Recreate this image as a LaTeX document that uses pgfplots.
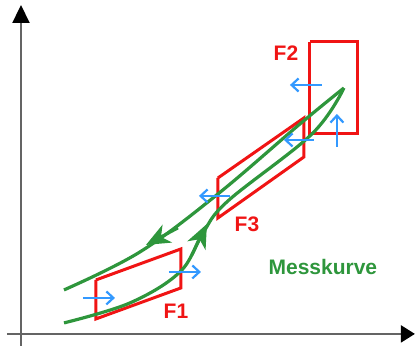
\documentclass[border=0pt]{standalone}
\usepackage{pgfplots}
\pgfplotsset{compat=1.18}
\usepackage{fontspec}
\setmainfont{Liberation Sans}
\usetikzlibrary{arrows.meta}
\definecolor{cred}{RGB}{240,20,20}
\definecolor{cgreen}{RGB}{46,150,60}
\definecolor{cblue}{RGB}{51,153,255}
\definecolor{caxis}{RGB}{100,100,100}
\begin{document}
\begin{tikzpicture}
\begin{axis}[
  scale only axis, width=416pt, height=346pt,
  xmin=0, xmax=416, ymin=0, ymax=346, y dir=reverse,
  hide axis, clip=false,
]
% frame for bounding box
\addplot[draw=none] coordinates {(0,0) (416,346)};
% axes
\addplot[caxis, line width=2.2pt, -{Triangle[length=18pt,width=17pt,black]}] coordinates {(21,346) (21,5)};
\addplot[caxis, line width=2.2pt, -{Triangle[length=14pt,width=17pt,black]}] coordinates {(7,334) (415,334)};
% F boxes
\addplot[cred, line width=3pt] coordinates {(310,42) (358,42) (358,134) (310,134) (310,42)};
\addplot[cred, line width=3pt] coordinates {(218,178) (304,118) (304,157) (218,218) (218,178)};
\addplot[cred, line width=3pt] coordinates {(96,280) (181,249) (181,288) (96,319) (96,280)};
% green curves
\addplot[cgreen, line width=3.2pt, smooth, tension=0.6] coordinates {
 (64,290) (140,252) (218,194) (300,124) (344,88)};
\addplot[cgreen, line width=3.2pt, smooth, tension=0.6] coordinates {
 (64,323) (130,303) (180,272) (203,233) (228,201) (312,134) (344,88)};
% green arrowheads
\addplot[cgreen, line width=3pt, -{Stealth[length=24pt,width=20pt,inset=7pt]}] coordinates {(178,228) (146,245)};
\addplot[cgreen, line width=3pt, -{Stealth[length=24pt,width=20pt,inset=7pt]}] coordinates {(192,255) (207,224)};
% blue arrows
\addplot[cblue, line width=2.2pt, -{Straight Barb[length=7pt,width=13pt]}] coordinates {(83,298) (115,298)};
\addplot[cblue, line width=2.2pt, -{Straight Barb[length=7pt,width=13pt]}] coordinates {(169,272) (201,272)};
\addplot[cblue, line width=2.2pt, -{Straight Barb[length=7pt,width=13pt]}] coordinates {(230,196) (199,196)};
\addplot[cblue, line width=2.2pt, -{Straight Barb[length=7pt,width=13pt]}] coordinates {(314,140) (284,140)};
\addplot[cblue, line width=2.2pt, -{Straight Barb[length=7pt,width=13pt]}] coordinates {(322,85) (290,85)};
\addplot[cblue, line width=2.2pt, -{Straight Barb[length=7pt,width=13pt]}] coordinates {(337,147) (337,114)};
% labels
\node[text=cred, font=\bfseries\fontsize{21}{24}\selectfont] at (axis cs:286,53) {F2};
\node[text=cred, font=\bfseries\fontsize{21}{24}\selectfont] at (axis cs:247,224) {F3};
\node[text=cred, font=\bfseries\fontsize{21}{24}\selectfont] at (axis cs:176,311) {F1};
\node[text=cgreen, font=\bfseries\fontsize{21}{24}\selectfont] at (axis cs:323,267) {Messkurve};
\end{axis}
\end{tikzpicture}
\end{document}
